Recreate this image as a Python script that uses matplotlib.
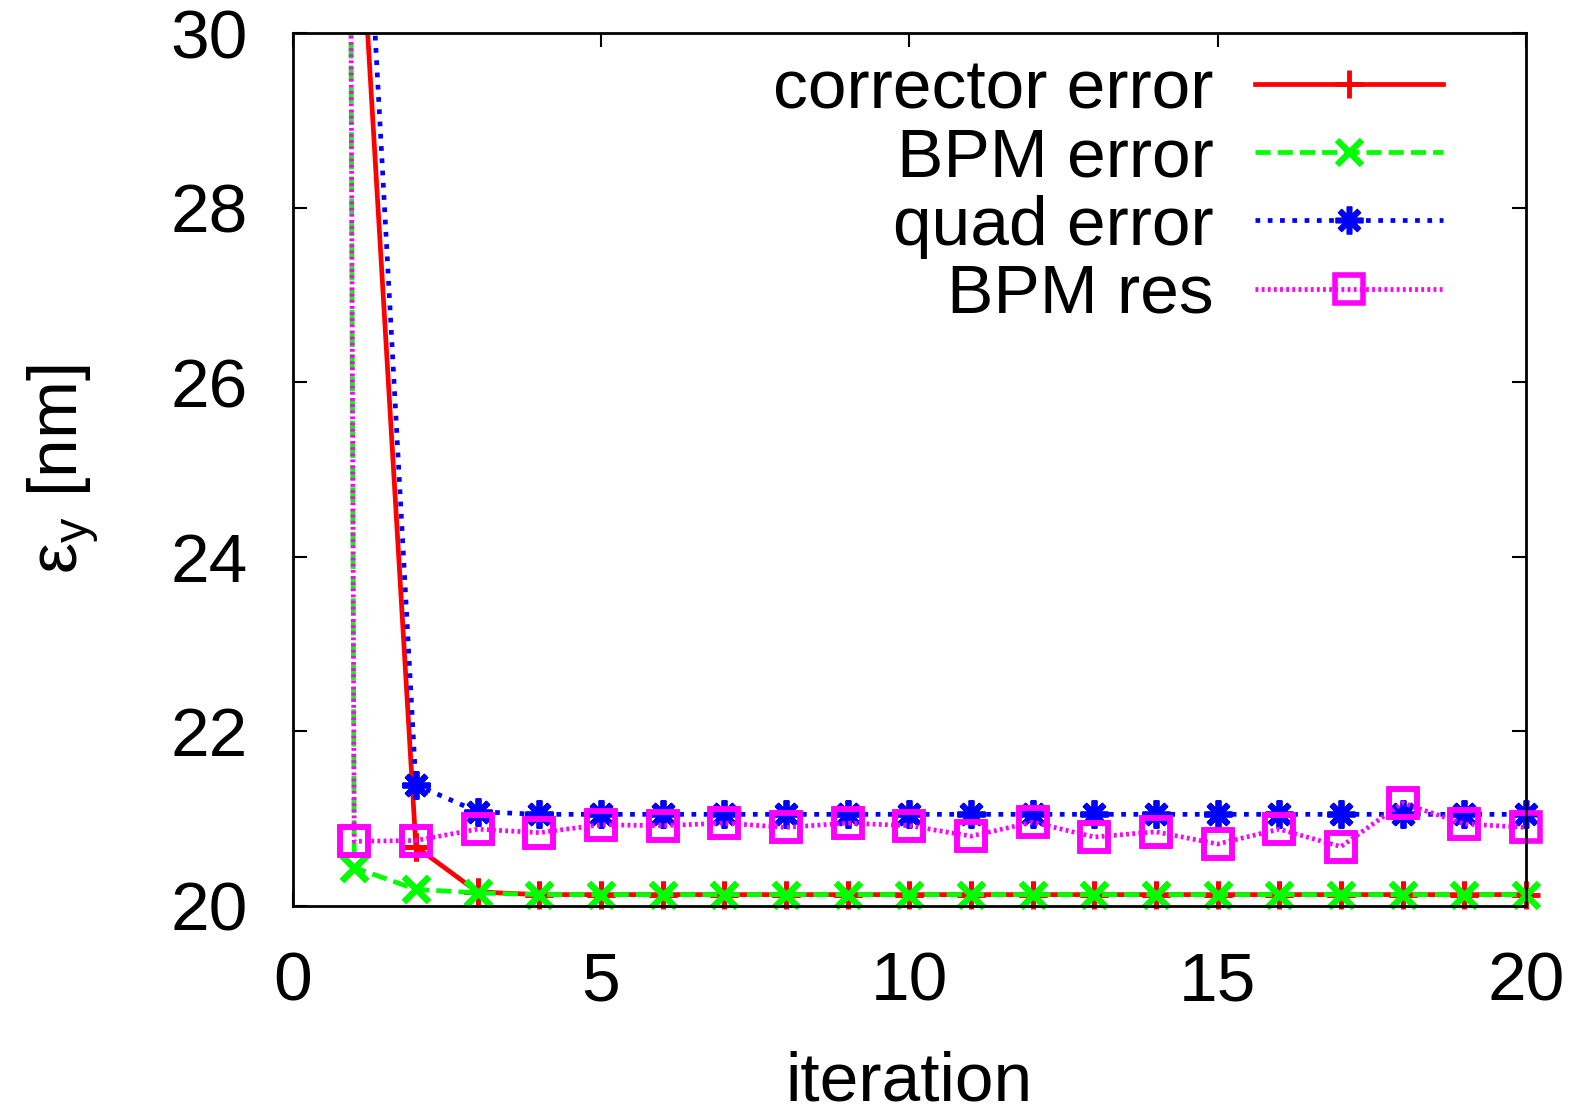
"""
Vertical emittance vs iteration for different error sources
"""
import numpy as np
from matplotlib import pyplot as plt

plt.rcParams["font.family"] = ["Liberation Sans", "DejaVu Sans"]
plt.rcParams["mathtext.fontset"] = "custom"
plt.rcParams["mathtext.rm"] = "Liberation Sans"

iteration = [0, 1, 2, 3, 4, 5, 6, 7, 8, 9, 10,
             11, 12, 13, 14, 15, 16, 17, 18, 19, 20]

corrector_error = [200, 32.6, 20.68, 20.16, 20.13, 20.13, 20.13, 20.13, 20.13, 20.13, 20.13,
                   20.13, 20.13, 20.13, 20.13, 20.13, 20.13, 20.13, 20.13, 20.13, 20.13]
bpm_error = [200, 20.44, 20.19, 20.15, 20.13, 20.13, 20.13, 20.13, 20.13, 20.13, 20.13,
             20.13, 20.13, 20.13, 20.13, 20.13, 20.13, 20.13, 20.13, 20.13, 20.13]
quad_error = [200, 34.4, 21.39, 21.08, 21.05, 21.05, 21.05, 21.05, 21.05, 21.05, 21.05,
              21.05, 21.05, 21.05, 21.05, 21.05, 21.05, 21.05, 21.05, 21.05, 21.05]
bpm_res = [200, 20.74, 20.75, 20.88, 20.84, 20.93, 20.92, 20.95, 20.90, 20.95, 20.92,
           20.80, 20.96, 20.79, 20.85, 20.71, 20.88, 20.68, 21.18, 20.94, 20.90]

labels = ["corrector error", "BPM error", "quad error", "BPM res"]

FS = 50
YMAX = 30

fig = plt.figure(figsize=(15.78, 11.12), dpi=100)
ax = fig.add_axes([0.1854, 0.1853, 0.967 - 0.1854, 0.9699 - 0.1853])

styles = [
    dict(color="#ff0000", linestyle="-", marker="+", markersize=20, markeredgewidth=3.5),
    dict(color="#00ff00", linestyle=(0, (3.2, 1.5)), marker="x", markersize=18, markeredgewidth=4.5),
    dict(color="#0000ff", linestyle=(0, (1, 1.6)), marker=(8, 2, 0), markersize=20, markeredgewidth=4),
    dict(color="#ff00ff", linestyle=(0, (0.6, 0.7)), marker="s", markersize=20, markeredgewidth=4,
         markerfacecolor="none"),
]

x = np.array(iteration)
for y, lab, st in zip([corrector_error, bpm_error, quad_error, bpm_res], labels, styles):
    y = np.array(y)
    ax.plot(x, y, linewidth=3.4, label=lab, **st)
    # gnuplot draws whole points even on the border
    m = y <= YMAX
    pst = dict(st)
    pst["linestyle"] = "none"
    ax.plot(x[m], y[m], clip_on=False, **pst)

ax.set_xlim(0, 20)
ax.set_ylim(20, YMAX)
ax.set_xticks([0, 5, 10, 15, 20])
ax.set_yticks([20, 22, 24, 26, 28, 30])
ax.tick_params(direction="in", length=10, width=1.5, top=True, right=True,
               labelsize=FS, pad=32)
for s in ax.spines.values():
    s.set_linewidth(2)

ax.set_xlabel("iteration", fontsize=FS, labelpad=26)
ax.set_ylabel(r"$\mathrm{\varepsilon}_\mathrm{y}$ [nm]", fontsize=FS, labelpad=50)

leg = ax.legend(loc="upper right", bbox_to_anchor=(1, 1.067), fontsize=FS,
                markerfirst=False, frameon=False,
                handlelength=2.7, handletextpad=0.6, labelspacing=0.06,
                borderaxespad=1.0, borderpad=0.2)

fig.savefig("out.png")
